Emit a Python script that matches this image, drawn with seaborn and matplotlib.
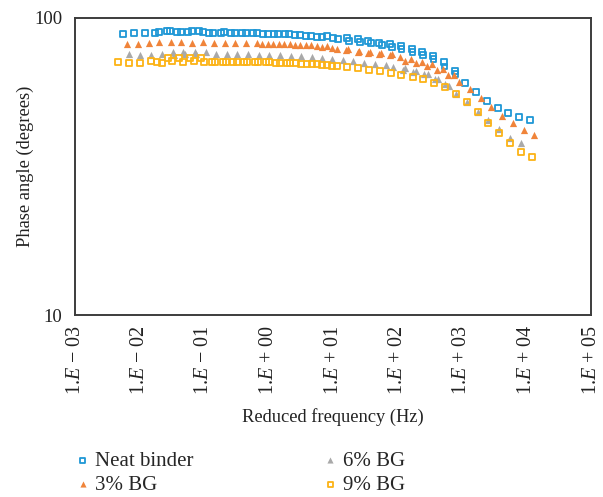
import numpy as np
import pandas as pd
import matplotlib
matplotlib.use("Agg")
import matplotlib.pyplot as plt
import seaborn as sns

# Master-curve data: reduced frequency (Hz) and phase angle (degrees)
neat_freq = [0.00555, 0.0082, 0.0122, 0.0174, 0.020, 0.0267, 0.0297, 0.038, 0.044,
             0.0565, 0.065, 0.0836, 0.096, 0.120, 0.138, 0.184, 0.204, 0.262, 0.303,
             0.388, 0.448, 0.575, 0.664, 0.822, 0.98, 1.22, 1.40, 1.80, 2.08, 2.58,
             3.08, 3.81, 4.56, 5.65, 6.75, 8.07, 10.0, 12.0, 16.5, 17.7, 24.4, 26.2,
             34.9, 38.8, 51.6, 57.5, 76.5, 82.2, 113, 115, 168, 171, 240, 248, 355,
             362, 526, 537, 778, 795, 1114, 1648, 2443, 3614, 5164, 7656, 11324]
neat_phase = [88.0, 88.7, 88.7, 88.7, 89.4, 90.1, 90.1, 89.4, 89.4,
              89.4, 90.1, 90.1, 89.4, 88.7, 88.7, 88.7, 89.4, 88.7, 88.7,
              88.7, 88.7, 88.7, 88.7, 88.0, 88.0, 88.0, 88.0, 88.0, 88.0, 87.4,
              87.4, 86.7, 86.7, 86.0, 86.0, 86.7, 85.3, 84.7, 85.3, 83.3, 84.7, 82.7,
              83.3, 82.1, 82.1, 80.9, 81.5, 79.7, 80.3, 78.4, 78.4, 76.5, 76.5, 74.8, 74.2,
              72.6, 70.8, 68.5, 66.1, 64.5, 60.2, 56.2, 52.4, 49.6, 47.7, 46.3, 45.2]

bg3_freq = [0.0064, 0.0095, 0.0140, 0.020, 0.0308, 0.044, 0.065, 0.096, 0.143, 0.212,
            0.303, 0.448, 0.664, 0.79, 0.98, 1.17, 1.46, 1.74, 2.15, 2.58, 3.08, 3.81,
            4.56, 5.65, 6.75, 8.07, 9.64, 11.5, 15.9, 17.1, 24.4, 25.3, 34.9, 37.5,
            51.6, 55.5, 76.5, 82.2, 109, 131, 162, 194, 240, 287, 343, 410, 507, 607,
            751, 898, 1330, 1972, 2818, 4169, 6180, 9141, 13060]
bg3_phase = [81.5, 81.5, 82.1, 82.7, 82.7, 82.7, 82.1, 82.7, 82.1, 82.1,
             82.1, 82.1, 82.1, 81.5, 81.5, 81.5, 81.5, 81.5, 81.5, 80.9, 80.9, 80.9,
             80.9, 80.3, 79.7, 80.3, 79.1, 78.4, 77.8, 78.4, 76.5, 77.2, 75.9, 76.5,
             75.3, 75.9, 74.8, 75.3, 73.6, 71.4, 72.6, 70.3, 70.8, 68.5, 69.6, 66.7, 67.3, 64.0,
             64.0, 60.6, 57.4, 53.6, 50.0, 46.6, 44.2, 41.8, 40.3]

bg6_freq = [0.00687, 0.0102, 0.0151, 0.0223, 0.033, 0.0343, 0.0472, 0.0507, 0.0724,
            0.0752, 0.107, 0.153, 0.228, 0.325, 0.481, 0.713, 1.02, 1.51, 2.23, 3.19,
            4.72, 6.75, 9.64, 14.3, 20.4, 30.3, 44.8, 66.4, 85.2, 122, 131, 174, 194,
            258, 297, 381, 425, 545, 628, 807, 1197, 1770, 2529, 3750, 5546, 8222]
bg6_phase = [75.4, 74.8, 74.8, 75.4, 76.5, 74.8, 76.5, 75.4, 76.5,
             75.4, 76.5, 75.4, 75.4, 75.4, 75.4, 74.8, 74.8, 74.8, 74.2, 74.2,
             73.7, 73.1, 72.6, 72.0, 71.5, 70.3, 69.8, 69.2, 68.1, 66.7, 67.9, 65.6, 66.1,
             64.5, 64.5, 62.1, 62.1, 59.8, 58.9, 55.3, 52.0, 48.1, 45.2, 42.2, 39.4, 37.9]

bg9_freq = [0.00465, 0.00687, 0.0102, 0.0151, 0.0187, 0.0223, 0.0277, 0.0319, 0.0409,
            0.0472, 0.0607, 0.070, 0.0897, 0.100, 0.133, 0.148, 0.197, 0.219, 0.282,
            0.325, 0.417, 0.465, 0.618, 0.687, 0.914, 1.02, 1.31, 1.51, 1.94, 2.15,
            2.67, 3.19, 3.95, 4.72, 5.65, 6.75, 8.07, 9.64, 11.5, 16.5, 24.4, 36.1,
            53.5, 79.3, 113, 174, 248, 368, 545, 807, 1197, 1770, 2529, 3750, 5546,
            8222, 12170]
bg9_phase = [70.8, 70.3, 70.3, 71.4, 70.8, 70.3, 73.1, 71.4, 73.1,
             70.8, 73.1, 71.4, 73.1, 70.8, 70.8, 70.8, 70.8, 70.8, 70.8,
             70.8, 70.8, 70.8, 70.8, 70.8, 70.8, 70.8, 70.3, 70.3, 70.3, 70.3,
             70.3, 69.8, 69.8, 69.8, 69.8, 69.2, 69.2, 68.7, 68.7, 68.2, 67.6, 66.6,
             66.1, 65.1, 64.1, 63.1, 62.1, 60.2, 58.4, 55.3, 52.0, 48.1, 44.2, 40.9, 37.9,
             35.3, 34.0]

series_names = ["Neat binder", "3% BG", "6% BG", "9% BG"]
x_tick_labels = [r"1.$E$ − 03", r"1.$E$ − 02", r"1.$E$ − 01", r"1.$E$ + 00", r"1.$E$ + 01",
                 r"1.$E$ + 02", r"1.$E$ + 03", r"1.$E$ + 04", r"1.$E$ + 05"]
y_tick_labels = ["10", "100"]

sns.set_style("white")
plt.rcParams["font.family"] = ["Liberation Serif", "DejaVu Serif"]
plt.rcParams["mathtext.fontset"] = "custom"
plt.rcParams["mathtext.rm"] = "Liberation Serif"
plt.rcParams["mathtext.it"] = "Liberation Serif:italic"

fig = plt.figure(figsize=(6.03, 4.97), dpi=100)
ax = fig.add_axes([75 / 603, 1 - 315 / 497, (591 - 75) / 603, (315 - 17.5) / 497])

styles = [
    (neat_freq, neat_phase, "s", "none", "#1f97d6", 16, 1.3),
    (bg3_freq, bg3_phase, "^", "#f0843a", "#f0843a", 27, 0.0),
    (bg6_freq, bg6_phase, "^", "#a9a9a9", "#a9a9a9", 27, 0.0),
    (bg9_freq, bg9_phase, "s", "none", "#fcb316", 16, 1.3),
]
for name, (fx, py, mk, fc, ec, size, lw) in zip(series_names, styles):
    sns.scatterplot(x=fx, y=py, ax=ax, marker=mk, s=size, facecolor=fc,
                    edgecolor=ec, linewidth=lw, label=name, zorder=3)

ax.set_xscale("log")
ax.set_yscale("log")
ax.set_xlim(1e-3, 1e5)
ax.set_ylim(10, 100)
ax.set_xticks([10.0 ** k for k in range(-3, 6)])
ax.set_xticklabels(x_tick_labels, rotation=90)
ax.set_yticks([10, 100])
ax.set_yticklabels(y_tick_labels)
ax.minorticks_off()
ax.tick_params(axis="both", length=0, colors="#222222")
ax.tick_params(axis="x", pad=7, labelsize=14.5)
ax.tick_params(axis="y", pad=9, labelsize=13.5)
for side in ["left", "right", "top", "bottom"]:
    ax.spines[side].set_visible(True)
    ax.spines[side].set_color("#3c3c3c")
    ax.spines[side].set_linewidth(1.4)

ax.set_xlabel("Reduced frequency (Hz)", fontsize=13.3, color="#222222", labelpad=9)
ax.set_ylabel("Phase angle (degrees)", fontsize=13.3, color="#222222")
ax.yaxis.set_label_coords(-0.08, 0.5)

handles, labels = ax.get_legend_handles_labels()
if ax.legend_ is not None:
    ax.legend_.remove()
fig.legend(handles, labels, ncol=2, loc="upper left", bbox_to_anchor=(0.1287, 0.0925),
           frameon=False, fontsize=15, markerscale=0.85, handlelength=0.5,
           handletextpad=0.35, columnspacing=6.3, labelspacing=0.22,
           borderaxespad=0, borderpad=0)

fig.savefig("out.png", dpi=100)
